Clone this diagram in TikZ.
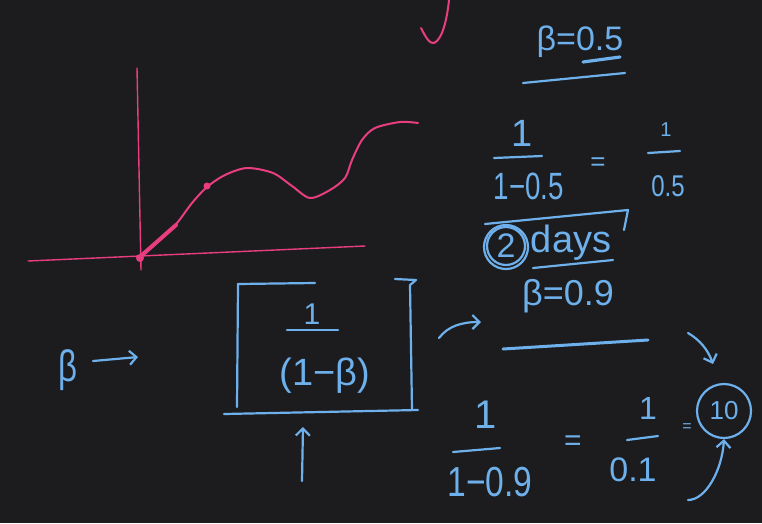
\documentclass[tikz,border=0pt]{standalone}
\usepackage{fontspec}
\setmainfont{Liberation Sans}
\usetikzlibrary{arrows.meta}
\definecolor{bg}{RGB}{28,28,30}
\definecolor{pinkink}{RGB}{232,62,128}
\definecolor{blueink}{RGB}{110,176,235}
\newcommand\hwx[2]{\scalebox{#1}[1]{#2}}
\newcommand\fsz[1]{\fontsize{#1}{#1}\selectfont}
\begin{document}
\begin{tikzpicture}[x=1pt,y=-1pt, line cap=round, line join=round,
  pen/.style={blueink, line width=2.2pt},
  pinkpen/.style={pinkink, line width=2pt},
  hand/.style={text=blueink, font=\fsz{30}, inner sep=0pt},
  open/.style={-{Straight Barb[length=7pt,width=14pt]}}]
\fill[bg] (0,0) rectangle (762,523);
\useasboundingbox (0,0) rectangle (762,523);

% pink tick at top
\draw[pinkpen] (421,28) .. controls (426,38) and (430,44) .. (434,43) .. controls (442,40) and (447,20) .. (449,0);

% pink graph
\draw[pinkpen, line width=1.4pt] (137,68) -- (141,270);
\draw[pinkpen, line width=1.4pt] (28,261) -- (365,246);
\draw[pinkpen] plot[smooth] coordinates {(140,258) (160,240) (177,223) (192,203) (207,187) (225,175) (247,168) (273,173) (292,186) (310,198) (330,190) (345,178) (352,160) (362,140) (375,128) (400,122) (418,123)};
\draw[pinkpen, line width=4pt] (142,255) -- (176,225);
\fill[pinkink] (140,258) circle (4);
\fill[pinkink] (207,186) circle (3.5);

% beta = 0.5
\node[hand, font=\fsz{34}] (b05) at (580,42) {β=0.5};
\draw[pen, line width=3.2pt] (583,62) -- (620,57);
\draw[pen] (523,83) -- (625,73);

\node[hand, font=\fsz{38}] (n1) at (522,133) {1};
\draw[pen] (494,158) -- (542,156);
\node[hand, font=\fsz{38}] (d1) at (529,186) {\hwx{0.73}{1−0.5}};
\node[hand, font=\fsz{26}] (eq1) at (598,164) {=};
\node[hand, font=\fsz{20}] (n2) at (666,130) {1};
\draw[pen] (648,153) -- (680,151);
\node[hand, font=\fsz{30}] (d2) at (668,186) {\hwx{0.8}{0.5}};

% 2 days
\node[hand, font=\fsz{34}] (two) at (506,246) {2};
\node[hand, font=\fsz{38}] (days) at (571,243) {days};
\draw[pen] (two) circle (19);
\draw[pen] (506,247) circle (22);
\draw[pen] (485,224) -- (628,210) -- (624,230);
\draw[pen] (533,268) -- (613,260);

% beta = 0.9
\node[hand, font=\fsz{36}] (b09) at (568,296) {β=0.9};
\draw[pen, line width=3pt] (503,349) -- (648,340);

% left beta and arrow
\node[hand, font=\fsz{44}] (beta) at (68,370) {\hwx{0.75}{β}};
\coordinate (barrowstart) at (93,361);
\coordinate (barrowend) at (138,357);
\draw[pen, open] (barrowstart) -- (barrowend);

% box with 1/(1-beta)
\node[hand, font=\fsz{30}] (fn) at (312,314) {1};
\draw[pen] (287,330) -- (338,330);
\node[hand, font=\fsz{38}] (fd) at (325,376) {(1−β)};
\draw[pen] (238,284) -- (315,283);
\draw[pen] (395,279) -- (416,280) -- (410,285) -- (412,410);
\draw[pen] (238,284) -- (237,407);
\draw[pen] (224,414) -- (418,410);

% up arrow under box
\coordinate (upfrom) at (302,481);
\coordinate (upto) at (303,427);
\draw[pen, open] (upfrom) -- (upto);

% arrow box -> beta=0.9
\coordinate (boxout) at (439,338);
\coordinate (b09in) at (481,322);
\draw[pen, open] (boxout) .. controls (448,326) and (462,322) .. (b09in);

% 1/(1-0.9) = 1/0.1 = 10
\node[hand, font=\fsz{40}] (n3) at (486,415) {1};
\draw[pen] (453,452) -- (500,448);
\node[hand, font=\fsz{42}] (d3) at (490,482) {\hwx{0.8}{1−0.9}};
\node[hand, font=\fsz{30}] (eq2) at (573,443) {=};
\node[hand, font=\fsz{32}] (n4) at (648,408) {1};
\draw[pen] (627,440) -- (658,436);
\node[hand, font=\fsz{34}] (d4) at (633,470) {0.1};
\node[hand, font=\fsz{16}] (eq3) at (687,428) {=};
\node[hand, font=\fsz{26}, draw=blueink, line width=2.2pt, circle, minimum size=54pt] (ten) at (724,411) {10};

\coordinate (tenarrA) at (688,333);
\coordinate (tenarrAend) at (713,364);
\draw[pen, open] (tenarrA) .. controls (700,340) and (708,350) .. (tenarrAend);
\coordinate (tenarrB) at (688,500);
\draw[pen, open] (tenarrB) .. controls (706,500) and (722,470) .. (ten.south);
\end{tikzpicture}
\end{document}
